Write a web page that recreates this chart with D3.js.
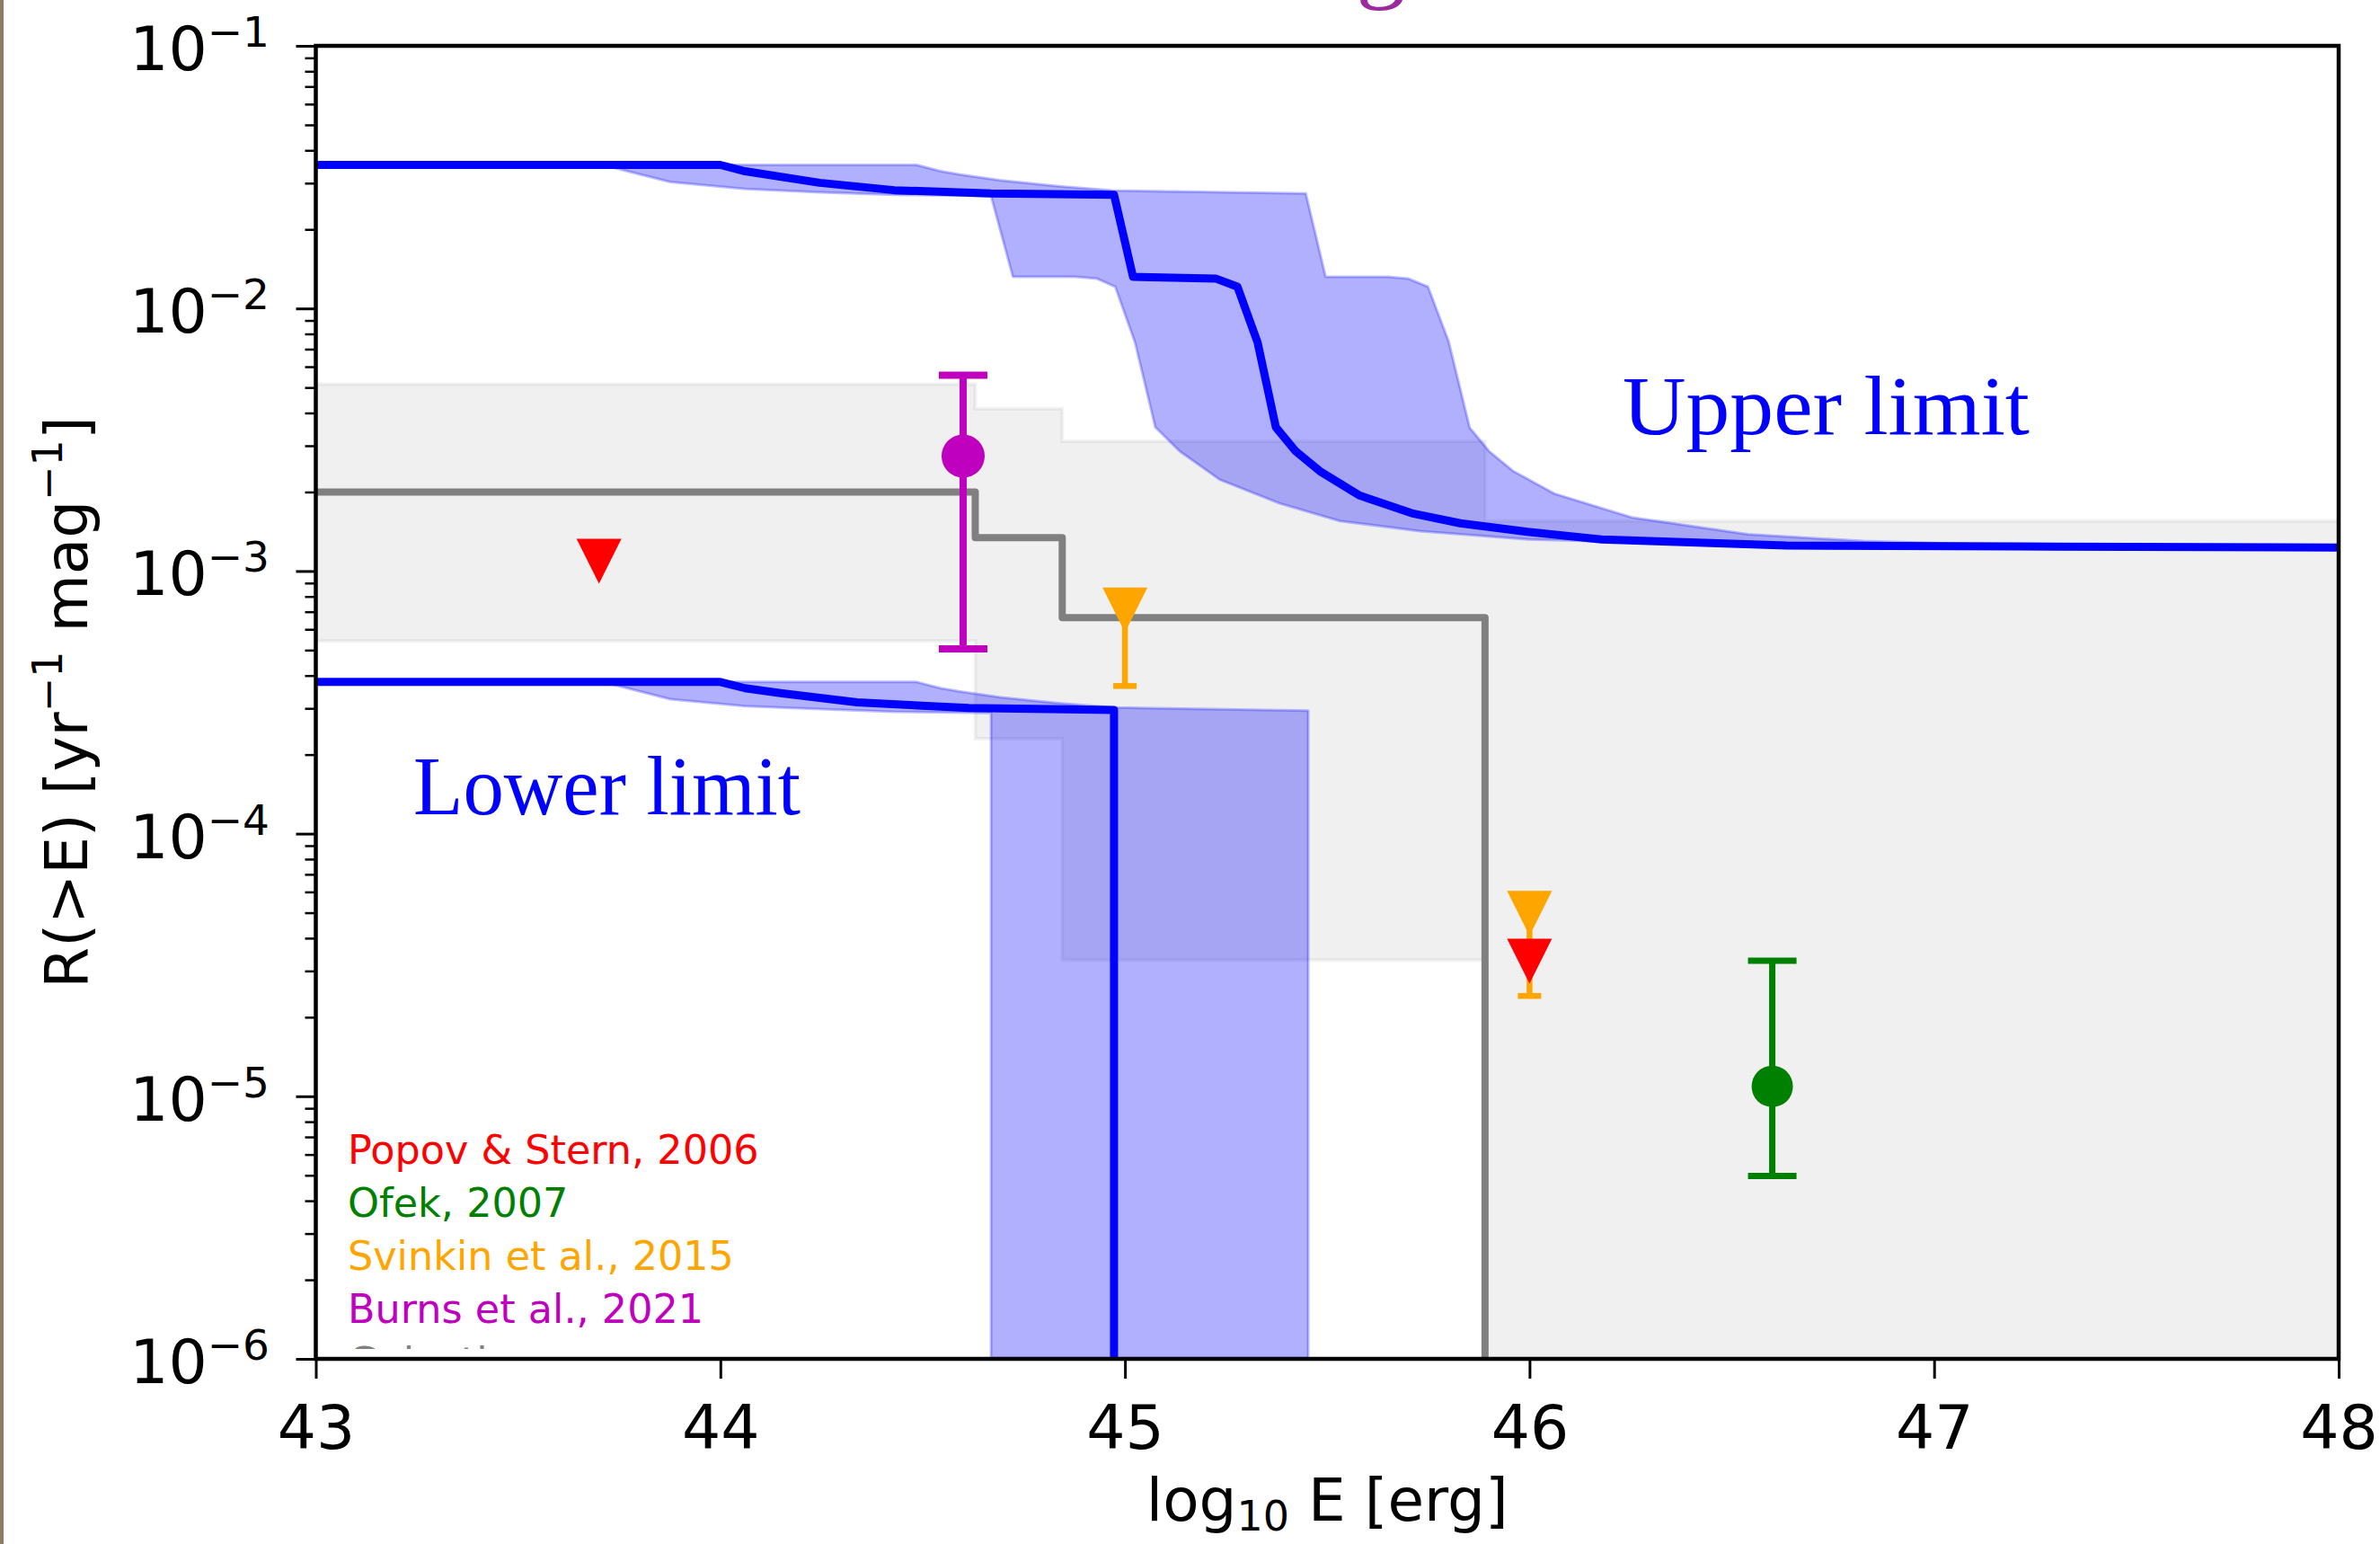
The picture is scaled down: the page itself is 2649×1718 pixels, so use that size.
<!DOCTYPE html>
<html>
<head>
<meta charset="utf-8">
<script src="https://cdn.jsdelivr.net/npm/d3@7"></script>
<style>
  html, body { margin: 0; padding: 0; background: #fff; }
  svg { display: block; }
</style>
</head>
<body>
<script>
// value that stands for "zero" on the log axis (falls below the plot)
const FLOOR = 1e-7;

// model rate, upper limit: central curve and band edges [log10 E, R]
const upperMid = [[43, 3.52e-2], [44.0, 3.52e-2], [44.061, 3.33e-2], [44.245, 3.01e-2], [44.43, 2.82e-2],
    [44.669, 2.74e-2], [44.973, 2.71e-2], [45.02, 1.32e-2], [45.224, 1.30e-2], [45.278, 1.21e-2],
    [45.328, 7.41e-3], [45.373, 3.53e-3], [45.422, 2.86e-3], [45.482, 2.40e-3], [45.58, 1.94e-3],
    [45.709, 1.66e-3], [45.829, 1.52e-3], [45.995, 1.41e-3], [46.178, 1.32e-3], [46.635, 1.25e-3],
    [47.209, 1.24e-3], [48, 1.23e-3]];
const upperTop = [[43, 3.52e-2], [44.485, 3.52e-2], [44.545, 3.33e-2], [44.59, 3.24e-2], [44.69, 3.08e-2],
    [44.837, 2.92e-2], [44.971, 2.81e-2], [45.447, 2.74e-2], [45.496, 1.32e-2], [45.65, 1.32e-2],
    [45.70, 1.30e-2], [45.749, 1.21e-2], [45.80, 7.5e-3], [45.852, 3.52e-3], [45.90, 2.86e-3],
    [45.96, 2.40e-3], [46.062, 1.97e-3], [46.253, 1.60e-3], [46.54, 1.38e-3], [46.826, 1.30e-3],
    [47.209, 1.25e-3], [48, 1.23e-3]];
const upperBottom = [[43, 3.52e-2], [43.71, 3.52e-2], [43.77, 3.33e-2], [43.876, 3.03e-2], [44.061, 2.85e-2],
    [44.245, 2.77e-2], [44.43, 2.71e-2], [44.669, 2.68e-2], [44.723, 1.32e-2], [44.876, 1.32e-2],
    [44.93, 1.30e-2], [44.976, 1.21e-2], [45.025, 7.41e-3], [45.075, 3.53e-3], [45.135, 2.86e-3],
    [45.234, 2.23e-3], [45.382, 1.81e-3], [45.531, 1.55e-3], [45.729, 1.42e-3], [45.996, 1.32e-3],
    [46.6, 1.25e-3], [47.2, 1.23e-3], [48, 1.22e-3]];

// model rate, lower limit
const lowerMid = [[43, 3.78e-4], [44.0, 3.78e-4], [44.061, 3.58e-4], [44.153, 3.42e-4], [44.338, 3.16e-4],
    [44.614, 3.01e-4], [44.973, 2.96e-4], [44.973, FLOOR]];
const lowerTop = [[43, 3.78e-4], [44.485, 3.78e-4], [44.545, 3.58e-4], [44.59, 3.48e-4], [44.69, 3.31e-4],
    [44.837, 3.14e-4], [44.971, 3.02e-4], [45.453, 2.94e-4], [45.453, FLOOR]];
const lowerBottom = [[43, 3.78e-4], [43.71, 3.78e-4], [43.77, 3.58e-4], [43.876, 3.25e-4], [44.061, 3.06e-4],
    [44.245, 2.98e-4], [44.43, 2.91e-4], [44.669, 2.88e-4], [44.669, FLOOR]];

// galactic rate (grey steps)
const galacticEdges = [43, 44.63, 44.845, 45.89, 48];
const galacticMid = [2.0e-3, 1.34e-3, 6.65e-4, FLOOR, FLOOR];
const galacticTop = [5.15e-3, 4.15e-3, 3.12e-3, 1.55e-3, 1.55e-3];
const galacticBottom = [5.42e-4, 2.3e-4, 3.3e-5, FLOOR, FLOOR];

// observational estimates
const popov = [{ x: 43.70, y: 1.09e-3 }, { x: 46.0, y: 3.27e-5 }];
const svinkin = [{ x: 45.0, y: 7.1e-4, lo: 3.65e-4 }, { x: 46.0, y: 4.97e-5, lo: 2.41e-5 }];
const burns = [{ x: 44.6, y: 2.74e-3, lo: 5.05e-4, hi: 5.57e-3 }];
const ofek = [{ x: 46.6, y: 1.09e-5, lo: 4.97e-6, hi: 3.28e-5 }];

const legendLabels = ["Popov & Stern, 2006", "Ofek, 2007", "Svinkin et al., 2015", "Burns et al., 2021", "Galactic"];
const legendColors = ["#ff0000", "#008000", "#ffa500", "#bf00bf", "#808080"];

const xTicks = [43, 44, 45, 46, 47, 48];
const yTicks = [1e-6, 1e-5, 1e-4, 1e-3, 1e-2, 1e-1];
const yTickLabels = ["\u22126", "\u22125", "\u22124", "\u22123", "\u22122", "\u22121"];

const width = 2649;
const height = 1718;
const plotBox = { left: 351.5, right: 2603, top: 51, bottom: 1512 };
const font = "DejaVu Sans, sans-serif";

const x = d3.scaleLinear().domain([43, 48]).range([plotBox.left, plotBox.right]);
const y = d3.scaleLog().domain([1e-6, 1e-1]).range([plotBox.bottom, plotBox.top]);

const svg = d3.select("body").append("svg")
    .attr("width", width)
    .attr("height", height);

svg.append("rect").attr("width", width).attr("height", height).attr("fill", "#fff");
// slide border on the left
svg.append("rect").attr("x", 0).attr("y", 0).attr("width", 4).attr("height", height).attr("fill", "#8c7d64");

const defs = svg.append("defs");
defs.append("clipPath").attr("id", "plot-clip").append("rect")
    .attr("x", plotBox.left).attr("y", plotBox.top)
    .attr("width", plotBox.right - plotBox.left).attr("height", plotBox.bottom - plotBox.top);
defs.append("clipPath").attr("id", "legend-clip").append("rect")
    .attr("x", 0).attr("y", 0).attr("width", width).attr("height", 1501);

const line = d3.line().x(d => x(d[0])).y(d => y(d[1]));
const band = (top, bottom) => line(top.concat(bottom.slice().reverse())) + "Z";

const plot = svg.append("g").attr("clip-path", "url(#plot-clip)");

// GREY BAND
const galactic = galacticEdges.map((e, i) => ({ x: e, top: galacticTop[i], bottom: galacticBottom[i], mid: galacticMid[i] }));
plot.append("path")
    .datum(galactic)
    .attr("d", d3.area().x(d => x(d.x)).y0(d => y(d.bottom)).y1(d => y(d.top)).curve(d3.curveStepAfter))
    .attr("fill", "rgba(128,128,128,0.12)")
    .attr("stroke", "rgba(128,128,128,0.1)")
    .attr("stroke-width", 4);

// BLUE BANDS
[[upperTop, upperBottom], [lowerTop, lowerBottom]].forEach(([t, b]) => {
    plot.append("path")
        .attr("d", band(t, b))
        .attr("fill", "rgba(0,0,255,0.31)")
        .attr("stroke", "rgba(0,0,255,0.25)")
        .attr("stroke-width", 3)
        .attr("stroke-linejoin", "round");
});

plot.append("path")
    .datum(galactic.slice(0, 4))
    .attr("d", d3.line().x(d => x(d.x)).y(d => y(d.mid)).curve(d3.curveStepAfter))
    .attr("fill", "none")
    .attr("stroke", "#808080")
    .attr("stroke-width", 8)
    .attr("stroke-linejoin", "round");

[upperMid, lowerMid].forEach(c => {
    plot.append("path")
        .datum(c)
        .attr("d", line)
        .attr("fill", "none")
        .attr("stroke", "#0000ff")
        .attr("stroke-width", 9)
        .attr("stroke-linejoin", "round");
});

// MARKERS
const tri = (cx, cy, s) => `M${cx - s},${cy - s}L${cx + s},${cy - s}L${cx},${cy + s}Z`;
const errorBar = (g, d, color, lw, cap) => {
    const top = d.hi !== undefined ? d.hi : d.y;
    g.append("line")
        .attr("x1", x(d.x)).attr("x2", x(d.x))
        .attr("y1", y(top)).attr("y2", y(d.lo))
        .attr("stroke", color).attr("stroke-width", lw);
    const caps = d.hi !== undefined ? [d.lo, d.hi] : [d.lo];
    caps.forEach(v => {
        g.append("line")
            .attr("x1", x(d.x) - cap).attr("x2", x(d.x) + cap)
            .attr("y1", y(v)).attr("y2", y(v))
            .attr("stroke", color).attr("stroke-width", lw);
    });
};

const marks = svg.append("g");
svinkin.forEach(d => {
    errorBar(marks, d, "#ffa500", 6.5, 13);
    marks.append("path").attr("d", tri(x(d.x), y(d.y), 25)).attr("fill", "#ffa500");
});
popov.forEach(d => {
    marks.append("path").attr("d", tri(x(d.x), y(d.y), 25)).attr("fill", "#ff0000");
});
burns.forEach(d => {
    errorBar(marks, d, "#bf00bf", 8, 27);
    marks.append("circle").attr("cx", x(d.x)).attr("cy", y(d.y)).attr("r", 24).attr("fill", "#bf00bf");
});
ofek.forEach(d => {
    errorBar(marks, d, "#008000", 7, 27);
    marks.append("circle").attr("cx", x(d.x)).attr("cy", y(d.y)).attr("r", 23).attr("fill", "#008000");
});

// FRAME
svg.append("rect")
    .attr("x", plotBox.left).attr("y", plotBox.top)
    .attr("width", plotBox.right - plotBox.left).attr("height", plotBox.bottom - plotBox.top)
    .attr("fill", "none").attr("stroke", "#000").attr("stroke-width", 4.5);

// AXES
const xAxis = d3.axisBottom(x).tickValues(xTicks).tickSize(22).tickSizeOuter(0).tickFormat(d => d);
const gx = svg.append("g")
    .attr("transform", `translate(0, ${plotBox.bottom})`)
    .call(xAxis)
    .attr("font-family", font)
    .attr("font-size", 68);
gx.select(".domain").remove();
gx.selectAll("line").attr("stroke", "#000").attr("stroke-width", 3);
gx.selectAll("text").attr("y", 100).attr("dy", null).attr("fill", "#000");

const yAxis = d3.axisLeft(y).tickValues(yTicks).tickSize(22).tickSizeOuter(0).tickFormat("");
const gy = svg.append("g").attr("transform", `translate(${plotBox.left}, 0)`).call(yAxis);
gy.select(".domain").remove();
gy.selectAll("line").attr("stroke", "#000").attr("stroke-width", 3);

const minor = y.ticks().filter(v => !yTicks.some(t => Math.abs(t - v) / t < 1e-6));
const gyMinor = svg.append("g").attr("transform", `translate(${plotBox.left}, 0)`)
    .call(d3.axisLeft(y).tickValues(minor).tickSize(12).tickSizeOuter(0).tickFormat(""));
gyMinor.select(".domain").remove();
gyMinor.selectAll("line").attr("stroke", "#000").attr("stroke-width", 2.5);

const yLabels = svg.append("g").attr("font-family", font).attr("fill", "#000");
yTicks.forEach((t, i) => {
    const txt = yLabels.append("text")
        .attr("x", 300)
        .attr("y", y(t) + 27)
        .attr("text-anchor", "end")
        .attr("font-size", 68);
    txt.append("tspan").text("10");
    txt.append("tspan").attr("dy", -26).attr("font-size", 47).text(yTickLabels[i]);
});

// AXIS TITLES
const xTitle = svg.append("text")
    .attr("x", (plotBox.left + plotBox.right) / 2)
    .attr("y", 1692)
    .attr("text-anchor", "middle")
    .attr("font-family", font)
    .attr("font-size", 66);
xTitle.append("tspan").text("log");
xTitle.append("tspan").attr("dy", 11).attr("font-size", 46).text("10");
xTitle.append("tspan").attr("dy", -11).text(" E [erg]");

const yTitle = svg.append("text")
    .attr("transform", `translate(97, ${(plotBox.top + plotBox.bottom) / 2}) rotate(-90)`)
    .attr("text-anchor", "middle")
    .attr("font-family", font)
    .attr("font-size", 66);
yTitle.append("tspan").text("R(>E) [yr");
yTitle.append("tspan").attr("dy", -28).attr("font-size", 46).text("\u22121");
yTitle.append("tspan").attr("dy", 28).text(" mag");
yTitle.append("tspan").attr("dy", -28).attr("font-size", 46).text("\u22121");
yTitle.append("tspan").attr("dy", 28).text("]");

// LEGEND (text only, cut off at the bottom like the slide)
svg.append("g")
    .attr("clip-path", "url(#legend-clip)")
    .selectAll("text")
    .data(legendLabels)
    .join("text")
    .attr("x", 387)
    .attr("y", (_, i) => 1295 + i * 59)
    .attr("font-family", font)
    .attr("font-size", 44.5)
    .attr("fill", (_, i) => legendColors[i])
    .text(d => d);

// ANNOTATIONS
svg.append("text")
    .attr("x", 1806).attr("y", 483)
    .attr("font-family", "Liberation Serif, serif")
    .attr("font-size", 94)
    .attr("textLength", 453).attr("lengthAdjust", "spacingAndGlyphs")
    .attr("fill", "#0000ff")
    .text("Upper limit");
svg.append("text")
    .attr("x", 460).attr("y", 906)
    .attr("font-family", "Liberation Serif, serif")
    .attr("font-size", 94)
    .attr("textLength", 431).attr("lengthAdjust", "spacingAndGlyphs")
    .attr("fill", "#0000ff")
    .text("Lower limit");

// slide title, cut off at the top edge
svg.append("text")
    .attr("x", 1537).attr("y", -11)
    .attr("text-anchor", "middle")
    .attr("font-family", "Liberation Serif, serif")
    .attr("font-size", 110)
    .attr("fill", "#9c2a9c")
    .text("g");
</script>
</body>
</html>
